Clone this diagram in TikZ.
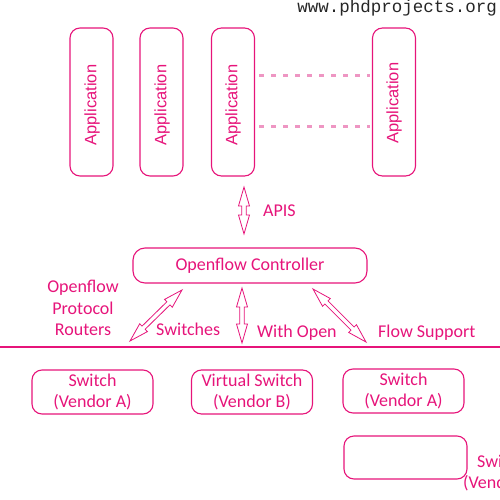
\documentclass[tikz,border=0pt]{standalone}
\usepackage{fontspec}
\setmainfont{Carlito}
\newfontfamily\arialf{Liberation Sans}
\newfontfamily\monof{Liberation Mono}
\usetikzlibrary{calc}
\definecolor{pk}{RGB}{230,20,122}
\definecolor{lpk}{RGB}{238,150,195}
\newcommand\arrHL{19pt}
\newcommand\arrHW{5.5pt}
\newcommand\arrSW{2.2pt}
\newcommand\dblarrow[2]{%
  \draw[arr] (#1)
    -- ($(#1)!\arrHL!(#2)!\arrHW!90:(#2)$)
    -- ($(#1)!\arrHL!(#2)!\arrSW!90:(#2)$)
    -- ($(#2)!\arrHL!(#1)!\arrSW!-90:(#1)$)
    -- ($(#2)!\arrHL!(#1)!\arrHW!-90:(#1)$)
    -- (#2)
    -- ($(#2)!\arrHL!(#1)!\arrHW!90:(#1)$)
    -- ($(#2)!\arrHL!(#1)!\arrSW!90:(#1)$)
    -- ($(#1)!\arrHL!(#2)!\arrSW!-90:(#2)$)
    -- ($(#1)!\arrHL!(#2)!\arrHW!-90:(#2)$)
    -- cycle;}
\begin{document}
\begin{tikzpicture}[x=1pt,y=-1pt,
  box/.style={draw=pk, line width=1.1pt, rounded corners=10pt, inner sep=0pt},
  appbox/.style={box, minimum width=43pt, minimum height=148pt},
  apptxt/.style={text=pk, font=\arialf\fontsize{16.5}{19}\selectfont, rotate=90, inner sep=0pt},
  txt/.style={text=pk, font=\fontsize{18}{21.5}\selectfont, inner sep=0pt},
  swbox/.style={box, minimum width=121pt, minimum height=44pt, align=center, text=pk, font=\fontsize{18}{21.5}\selectfont},
  dots/.style={draw=lpk, line width=3pt, dash pattern=on 4.5pt off 7.5pt},
  arr/.style={draw=pk, line width=0.8pt, fill=white, line join=miter}]

\useasboundingbox (0,0) rectangle (500,500);

% applications
\node[appbox] (app1) at (91.5,102) {};
\node[appbox] (app2) at (161.5,102) {};
\node[appbox] (app3) at (233,102) {};
\node[appbox] (app4) at (394,102) {};
\node[apptxt] (t1) at (92,105) {Application};
\node[apptxt] (t2) at (162,105) {Application};
\node[apptxt] (t3) at (233,105) {Application};
\node[apptxt] (t4) at (394,103) {Application};

\draw[dots] ([xshift=4pt]app3.east |- 0,76) -- ([xshift=-2pt]app4.west |- 0,76);
\draw[dots] ([xshift=4pt]app3.east |- 0,126) -- ([xshift=-2pt]app4.west |- 0,126);

% controller
\node[box, rounded corners=12pt, minimum width=234pt, minimum height=35pt, text=pk, font=\fontsize{18}{21.5}\selectfont] (ctrl) at (250,265.5) {Openflow Controller};

% arrows
\coordinate (apA) at (244,187); \coordinate (apB) at (244,234);
\coordinate (lA) at (182,290);  \coordinate (lB) at (130,341);
\coordinate (mA) at (242,288);  \coordinate (mB) at (242,343);
\coordinate (rA) at (313,289);  \coordinate (rB) at (366,342);
\dblarrow{apA}{apB}
\dblarrow{lA}{lB}
\dblarrow{mA}{mB}
\dblarrow{rA}{rB}

% labels
\node[txt, anchor=base west] (apis) at (263,216) {APIS};
\node[txt, align=center] (ofp) at (83,308) {Openflow\\Protocol\\Routers};
\node[txt, anchor=base west] (swl) at (156,335) {Switches};
\node[txt, anchor=base west] (wol) at (257,337) {With Open};
\node[txt, anchor=base west] (fsl) at (378,337) {Flow Support};

% separator line
\coordinate (L0) at (0,347); \coordinate (L1) at (500,347);
\draw[pk, line width=1.8pt] (L0) -- (L1);

% switches
\node[swbox] (sw1) at (92.5,392) {Switch\\(Vendor A)};
\node[swbox] (sw2) at (252,392) {Virtual Switch\\(Vendor B)};
\node[swbox] (sw3) at (403.5,391) {Switch\\(Vendor A)};
\node[swbox, minimum width=123pt, minimum height=43pt] (sw4) at (405.5,457.5) {};
\node[txt, anchor=base west] (s4a) at (477,467) {Swi};
\node[txt, anchor=base west] (s4b) at (463,488) {(Vend};

% watermark
\node[font=\monof\fontsize{17.5}{20}\selectfont, anchor=base east, inner sep=0pt, text=black!85] (www) at (497,13) {www.phdprojects.org};
\end{tikzpicture}
\end{document}
